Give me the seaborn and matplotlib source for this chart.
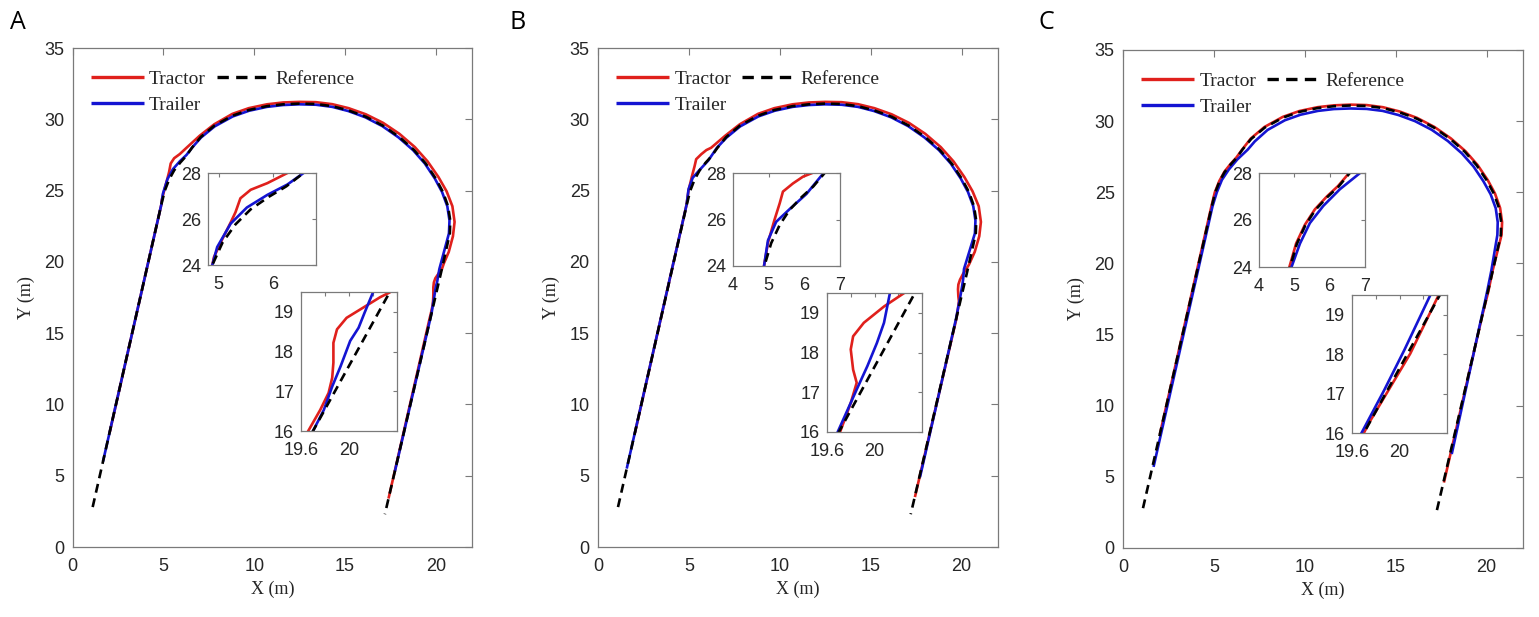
import matplotlib
matplotlib.use("Agg")
import matplotlib.pyplot as plt
import seaborn as sns

sns.set_theme(style="white")
plt.rcParams["font.family"] = ["Liberation Sans", "DejaVu Sans"]

# ---------------- data ----------------
REF_X = [1.10, 4.88, 5.07, 5.31, 5.59, 5.93, 6.25, 6.57, 7.05, 7.80, 8.80, 9.70, 10.70,
         11.60, 12.50, 13.40, 14.30, 15.20, 16.15, 17.10, 18.00, 18.80, 19.45, 20.00,
         20.40, 20.68, 20.80, 20.78, 20.34, 19.70, 17.20]
REF_Y = [2.80, 24.00, 24.98, 25.77, 26.42, 26.97, 27.42, 28.00, 28.75, 29.55, 30.25, 30.65,
         30.92, 31.05, 31.10, 31.07, 30.92, 30.62, 30.18, 29.55, 28.75, 27.85, 26.90, 25.85,
         24.90, 23.90, 22.90, 22.00, 19.50, 16.00, 2.30]

# Panel A
TRACTOR_A_X = [2.03, 4.88, 4.91, 5.06, 5.22, 5.31, 5.40, 5.59, 5.90, 6.27, 7.00, 7.80, 8.80,
               9.70, 10.70, 11.60, 12.50, 13.40, 14.30, 15.20, 16.15, 17.10, 18.00, 18.85,
               19.55, 20.15, 20.60, 20.92, 21.04, 20.95, 20.72, 20.45, 20.34, 20.26, 20.12,
               19.98, 19.90, 19.87, 19.87, 19.86, 19.83, 19.76, 19.66, 17.40]
TRACTOR_A_Y = [8.00, 24.00, 24.34, 25.10, 25.85, 26.30, 26.90, 27.27, 27.56, 28.00, 28.85,
               29.65, 30.38, 30.78, 31.05, 31.18, 31.22, 31.20, 31.06, 30.78, 30.35, 29.75,
               28.98, 28.05, 27.05, 25.95, 24.95, 23.90, 22.80, 21.80, 20.70, 19.90, 19.49,
               19.37, 19.11, 18.85, 18.56, 18.22, 17.72, 17.34, 16.96, 16.53, 16.00, 3.40]
TRAILER_A_X = [1.67, 4.88, 4.97, 5.22, 5.52, 5.90, 6.27, 6.57, 7.07, 7.82, 8.82, 9.72, 10.70,
               11.60, 12.50, 13.40, 14.30, 15.18, 16.12, 17.06, 17.95, 18.75, 19.40, 19.95,
               20.35, 20.64, 20.76, 20.73, 20.20, 20.13, 20.08, 20.01, 19.93, 19.86, 19.79,
               19.70, 17.75]
TRAILER_A_Y = [6.00, 24.00, 24.78, 25.80, 26.50, 27.05, 27.50, 28.00, 28.72, 29.50, 30.20,
               30.60, 30.87, 31.00, 31.05, 31.02, 30.87, 30.58, 30.14, 29.52, 28.73, 27.84,
               26.90, 25.85, 24.90, 23.90, 22.90, 22.00, 19.49, 18.98, 18.60, 18.27, 17.63,
               17.12, 16.53, 16.00, 5.30]

# Panel B
TRACTOR_B_X = [2.03, 4.87, 4.98, 5.16, 5.31, 5.40, 5.68, 5.96, 6.22, 7.00, 7.80, 8.80, 9.70,
               10.70, 11.60, 12.50, 13.40, 14.30, 15.20, 16.15, 17.10, 18.00, 18.85, 19.55,
               20.15, 20.60, 20.94, 21.06, 20.97, 20.72, 20.40, 20.25, 20.08, 19.91, 19.82,
               19.80, 19.82, 19.85, 19.80, 19.71, 17.43]
TRACTOR_B_Y = [8.00, 24.00, 25.00, 25.97, 26.70, 27.20, 27.55, 27.84, 28.00, 28.85, 29.65,
               30.38, 30.78, 31.05, 31.18, 31.22, 31.20, 31.06, 30.78, 30.35, 29.75, 28.98,
               28.05, 27.05, 25.95, 24.95, 23.90, 22.80, 21.80, 20.70, 19.80, 19.50, 19.16,
               18.75, 18.41, 18.08, 17.57, 17.24, 16.73, 16.00, 3.50]
TRAILER_B_X = [1.58, 4.87, 4.98, 5.21, 5.59, 6.06, 6.54, 7.07, 7.82, 8.82, 9.72, 10.70, 11.60,
               12.50, 13.40, 14.30, 15.18, 16.12, 17.06, 17.95, 18.75, 19.40, 19.95, 20.35,
               20.64, 20.76, 20.73, 20.13, 20.08, 20.02, 19.94, 19.85, 19.69, 17.71]
TRAILER_B_Y = [5.50, 24.00, 25.10, 25.90, 26.45, 27.10, 28.00, 28.72, 29.50, 30.20, 30.60,
               30.87, 31.00, 31.05, 31.02, 30.87, 30.58, 30.14, 29.52, 28.73, 27.84, 26.90,
               25.85, 24.90, 23.90, 22.90, 22.00, 19.50, 18.75, 18.24, 17.66, 17.07, 16.00,
               4.90]

# Panel C
TRACTOR_C_X = [2.03, 4.86, 5.05, 5.30, 5.58, 5.92, 6.24, 6.55, 7.03, 7.78, 8.79, 9.70, 10.70,
               11.60, 12.50, 13.40, 14.30, 15.21, 16.17, 17.13, 18.04, 18.85, 19.50, 20.06,
               20.46, 20.74, 20.85, 20.82, 20.33, 20.09, 19.74, 19.70, 17.65]
TRACTOR_C_Y = [8.00, 24.00, 25.00, 25.80, 26.45, 27.00, 27.45, 28.00, 28.78, 29.59, 30.30,
               30.71, 30.98, 31.11, 31.16, 31.13, 30.98, 30.68, 30.23, 29.59, 28.78, 27.87,
               26.92, 25.86, 24.91, 23.90, 22.90, 22.00, 19.50, 18.01, 16.24, 16.00, 4.60]
TRAILER_C_X = [1.68, 4.92, 5.16, 5.44, 5.82, 6.29, 6.86, 7.25, 7.95, 8.90, 9.76, 10.72,
               11.60, 12.50, 13.40, 14.28, 15.15, 16.06, 16.98, 17.86, 18.64, 19.28, 19.82,
               20.22, 20.50, 20.61, 20.59, 20.26, 20.04, 19.87, 19.68, 18.08]
TRAILER_C_Y = [5.70, 24.00, 25.00, 25.87, 26.60, 27.31, 28.00, 28.58, 29.38, 30.06, 30.45,
               30.72, 30.85, 30.89, 30.86, 30.72, 30.43, 30.00, 29.39, 28.61, 27.73, 26.81,
               25.78, 24.86, 23.88, 22.90, 22.00, 19.50, 18.10, 17.08, 16.00, 6.60]

PANEL_LABELS = ["A", "B", "C"]
LEGEND_LABELS = ["Tractor", "Trailer", "Reference"]
MAIN_XTICKS = [0, 5, 10, 15, 20]
MAIN_YTICKS = [0, 5, 10, 15, 20, 25, 30, 35]
INSET1_XLIMS = [(4.8, 6.8), (4.0, 7.0), (4.0, 7.0)]
INSET1_XTICKS = [[5, 6], [4, 5, 6, 7], [4, 5, 6, 7]]
INSET1_YTICKS = [24, 26, 28]
INSET2_XTICKS = [19.6, 19.8, 20.0, 20.2, 20.4]
INSET2_XTICKLABELS = ["19.6", "", "20", "", ""]
INSET2_YTICKS = [16, 17, 18, 19]

PANEL_DATA = [
    (TRACTOR_A_X, TRACTOR_A_Y, TRAILER_A_X, TRAILER_A_Y),
    (TRACTOR_B_X, TRACTOR_B_Y, TRAILER_B_X, TRAILER_B_Y),
    (TRACTOR_C_X, TRACTOR_C_Y, TRAILER_C_X, TRAILER_C_Y),
]

# ---------------- styling ----------------
RED = "#e0201c"
BLUE = "#1414d2"
BLACK = "#000000"
FRAME = "#7a7a7a"
TXT = "#262626"
SERIF = "Liberation Serif"
LW = 1.9
TICK_FS = 13

W, H = 1539, 617
MAIN_BOX = [(72.7, 472, 48, 547), (598, 998, 48, 547), (1123, 1523, 50, 548)]
INSET1_BOX = [(208, 316, 173, 265), (733, 840, 173, 266), (1259, 1365, 173, 267)]
INSET2_BOX = [(301, 397, 292, 431), (827, 922, 293, 432), (1352, 1447, 295, 433)]
LETTER_POS = [(10, 10), (510, 10), (1038, 10)]


def rect(b):
    l, r, t, bt = b
    return [l / W, 1 - bt / H, (r - l) / W, (bt - t) / H]


def style_axes(ax, length, xpad, ypad):
    for s in ax.spines.values():
        s.set_color(FRAME)
        s.set_linewidth(0.9)
        s.set_visible(True)
    ax.tick_params(direction="in", top=True, right=True, length=length, width=0.8,
                   color=FRAME, labelcolor=TXT, labelsize=TICK_FS)
    ax.tick_params(axis="x", pad=xpad)
    ax.tick_params(axis="y", pad=ypad)
    ax.set_facecolor("white")
    ax.grid(False)


def draw_curves(ax, tx, ty, bx, by):
    sns.lineplot(x=tx, y=ty, ax=ax, sort=False, estimator=None, color=RED, lw=LW)
    l_tr = ax.lines[-1]
    sns.lineplot(x=bx, y=by, ax=ax, sort=False, estimator=None, color=BLUE, lw=LW)
    l_tl = ax.lines[-1]
    sns.lineplot(x=REF_X, y=REF_Y, ax=ax, sort=False, estimator=None, color=BLACK, lw=LW)
    l_ref = ax.lines[-1]
    l_ref.set_dashes([3.4, 2.2])
    for ln in (l_tr, l_tl, l_ref):
        ln.set_solid_capstyle("butt")
        ln.set_dash_capstyle("butt")
        ln.set_solid_joinstyle("round")
    return l_tr, l_tl, l_ref


fig = plt.figure(figsize=(W / 100, H / 100), dpi=100)
fig.patch.set_facecolor("white")

for i in range(3):
    tx, ty, bx, by = PANEL_DATA[i]
    ax = fig.add_axes(rect(MAIN_BOX[i]))
    l_tr, l_tl, l_ref = draw_curves(ax, tx, ty, bx, by)
    ax.set_xlim(0, 22)
    ax.set_ylim(0, 35)
    ax.set_xticks(MAIN_XTICKS)
    ax.set_yticks(MAIN_YTICKS)
    style_axes(ax, 5, 8, 6)
    ax.set_xlabel("X (m)", family=SERIF, fontsize=13, color=TXT, labelpad=4)
    ax.set_ylabel("Y (m)", family=SERIF, fontsize=13, color=TXT, labelpad=7)
    leg = ax.legend([l_tr, l_tl, l_ref], LEGEND_LABELS, ncol=2, loc="upper left",
                    bbox_to_anchor=(0.045, 0.956), frameon=False,
                    prop={"family": SERIF, "size": 14}, handlelength=2.75,
                    handletextpad=0.25, columnspacing=0.55, labelspacing=0.45,
                    borderaxespad=0, borderpad=0)
    for t in leg.get_texts():
        t.set_color(TXT)
    for h in leg.legend_handles:
        h.set_linewidth(2.4)

    # inset 1 : corner near the start of the turn
    a1 = fig.add_axes(rect(INSET1_BOX[i]))
    draw_curves(a1, tx, ty, bx, by)
    a1.set_xlim(*INSET1_XLIMS[i])
    a1.set_ylim(24, 28)
    a1.set_xticks(INSET1_XTICKS[i])
    a1.set_yticks(INSET1_YTICKS)
    style_axes(a1, 3, 8, 5)

    # inset 2 : end of the turn
    a2 = fig.add_axes(rect(INSET2_BOX[i]))
    draw_curves(a2, tx, ty, bx, by)
    a2.set_xlim(19.6, 20.4)
    a2.set_ylim(16, 19.5)
    a2.set_xticks(INSET2_XTICKS)
    a2.set_xticklabels(INSET2_XTICKLABELS)
    a2.set_yticks(INSET2_YTICKS)
    style_axes(a2, 3, 8, 5)

    lx, ly = LETTER_POS[i]
    fig.text(lx / W, 1 - ly / H, PANEL_LABELS[i], family=["Open Sans", "DejaVu Sans"],
             fontsize=18, va="top", ha="left", color="black")

fig.savefig("out.png", dpi=100, facecolor="white")
